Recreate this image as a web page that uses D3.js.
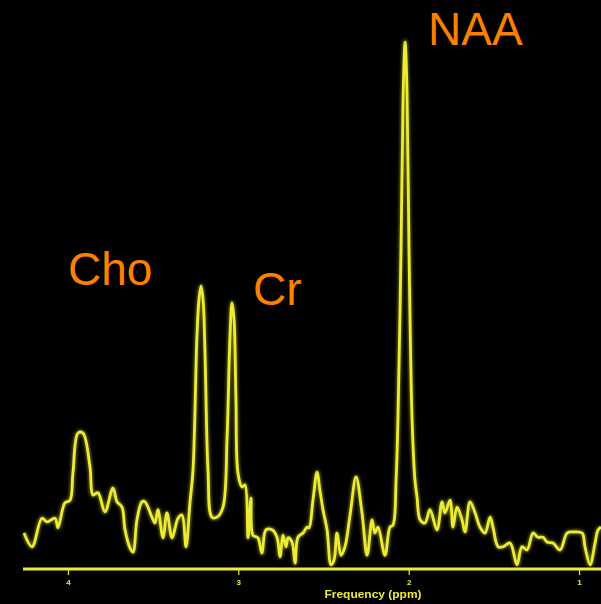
<!DOCTYPE html>
<html>
<head>
<meta charset="utf-8">
<script src="https://cdn.jsdelivr.net/npm/d3@7"></script>
<style>
  html, body { margin: 0; padding: 0; background: #000; }
  svg { display: block; }
</style>
</head>
<body>
<svg id="chart" width="601" height="604"></svg>
<script>
// Proton MR spectrum: chemical shift (ppm) against signal intensity (a.u.)
const ppm = [
  4.258, 4.211, 4.153, 4.123, 4.076, 4.059, 4.018, 3.988, 3.971, 3.941,
  3.912, 3.871, 3.853, 3.824, 3.783, 3.736, 3.712, 3.683, 3.665, 3.636,
  3.618, 3.595, 3.566, 3.548, 3.507, 3.489, 3.472, 3.442, 3.419, 3.389,
  3.354, 3.331, 3.307, 3.284, 3.266, 3.243, 3.231, 3.219, 3.207, 3.196,
  3.178, 3.155, 3.125, 3.090, 3.066, 3.049, 3.037, 3.025, 3.014, 3.002,
  2.978, 2.961, 2.943, 2.926, 2.914, 2.885, 2.861, 2.838, 2.802, 2.773,
  2.755, 2.738, 2.720, 2.708, 2.685, 2.667, 2.650, 2.620, 2.597, 2.585,
  2.562, 2.538, 2.521, 2.503, 2.479, 2.456, 2.438, 2.421, 2.397, 2.374,
  2.344, 2.309, 2.274, 2.244, 2.215, 2.198, 2.180, 2.139, 2.110, 2.092,
  2.074, 2.063, 2.045, 2.033, 2.021, 2.010, 1.998, 1.980, 1.963, 1.951,
  1.933, 1.904, 1.875, 1.834, 1.804, 1.787, 1.757, 1.740, 1.716, 1.687,
  1.669, 1.640, 1.610, 1.581, 1.552, 1.522, 1.505, 1.475, 1.446, 1.405,
  1.364, 1.335, 1.305, 1.270, 1.241, 1.211, 1.188, 1.153, 1.111, 1.070,
  1.035, 0.982, 0.965, 0.935, 0.906, 0.888, 0.871
];
const intensity = [
  6.8, 4.2, 9.6, 8.9, 9.6, 7.8, 12.5, 13.0, 18.1, 25.7,
  25.7, 19.3, 14.0, 14.4, 10.8, 15.3, 12.7, 11.7, 7.4, 4.0,
  3.2, 9.3, 12.7, 12.7, 9.8, 8.7, 11.2, 5.9, 10.6, 5.9,
  9.6, 10.2, 4.2, 12.5, 18.7, 43.9, 50.9, 53.5, 50.9, 41.4,
  18.7, 9.8, 9.8, 11.7, 25.0, 43.9, 50.3, 47.1, 31.9, 18.1,
  15.5, 15.9, 5.9, 13.4, 6.4, 5.9, 3.0, 7.4, 7.4, 6.0,
  2.3, 6.4, 4.2, 5.9, 5.1, 1.1, 6.0, 6.8, 7.9, 7.8,
  13.0, 18.3, 14.9, 11.2, 7.4, 0.8, 1.7, 6.8, 2.6, 4.2,
  10.2, 17.4, 10.6, 2.6, 9.3, 6.8, 7.9, 2.6, 7.9, 8.3,
  16.8, 28.2, 60.3, 88.7, 99.6, 90.5, 60.3, 28.2, 16.8, 13.6,
  9.3, 8.7, 11.2, 7.4, 12.7, 10.6, 13.0, 7.9, 11.7, 9.3,
  7.0, 12.7, 10.6, 7.9, 6.8, 9.8, 7.9, 4.2, 4.2, 4.9,
  0.8, 4.2, 3.6, 6.8, 6.0, 6.0, 5.1, 4.9, 3.6, 6.8,
  7.0, 6.8, 4.2, 0.8, 4.9, 7.4, 7.9
];

// Axis ticks (ppm) and metabolite labels
const tickValues = [4, 3, 2, 1];
const axisTitle = "Frequency (ppm)";
const peakNames = ["Cho", "Cr", "NAA"];
const peakPpm = [3.219, 3.037, 2.021];
const peakHeight = [53.5, 50.3, 99.6];

const svg = d3.select("#chart");
const W = 601, H = 604;
svg.append("rect").attr("width", W).attr("height", H).attr("fill", "#000");

const axisY = 569;
const x = d3.scaleLinear().domain([4.264, 0.871]).range([23, 601]);
const y = d3.scaleLinear().domain([0, 100]).range([axisY, 40]);

const defs = svg.append("defs");
const glow = defs.append("filter").attr("id", "glow")
  .attr("x", "-20%").attr("y", "-20%").attr("width", "140%").attr("height", "140%");
glow.append("feGaussianBlur").attr("stdDeviation", 1.6);
const soft = defs.append("filter").attr("id", "soft");
soft.append("feGaussianBlur").attr("stdDeviation", 0.45);

const yellow = "#ecec36";

// Frequency axis
const axis = d3.axisBottom(x)
  .tickValues(tickValues)
  .tickSize(6)
  .tickPadding(4)
  .tickFormat(d3.format("d"));
const gAxis = svg.append("g")
  .attr("transform", `translate(0,${axisY})`)
  .attr("filter", "url(#soft)")
  .call(axis);
gAxis.select(".domain").attr("stroke", yellow).attr("stroke-width", 3)
  .attr("d", `M${x.range()[0]},0H${x.range()[1]}`);
gAxis.selectAll(".tick line").attr("stroke", yellow).attr("stroke-width", 1.2);
gAxis.selectAll(".tick text")
  .attr("fill", yellow)
  .attr("font-family", "Liberation Sans, Arial, sans-serif")
  .attr("font-weight", "bold")
  .attr("font-size", 8);

svg.append("text")
  .attr("x", 373).attr("y", 598)
  .attr("text-anchor", "middle")
  .attr("fill", yellow)
  .attr("font-family", "Liberation Sans, Arial, sans-serif")
  .attr("font-weight", "bold")
  .attr("font-size", 10)
  .attr("textLength", 97)
  .attr("lengthAdjust", "spacingAndGlyphs")
  .attr("filter", "url(#soft)")
  .text(axisTitle);

// Spectrum trace
const pts = ppm.map((p, i) => [p, intensity[i]]);
const line = d3.line()
  .x(d => x(d[0]))
  .y(d => y(d[1]))
  .curve(d3.curveCatmullRom.alpha(0.5));

svg.append("path")
  .attr("d", line(pts))
  .attr("fill", "none")
  .attr("stroke", "#b8b820")
  .attr("stroke-width", 5)
  .attr("stroke-linejoin", "round")
  .attr("opacity", 0.55)
  .attr("filter", "url(#glow)");
svg.append("path")
  .attr("d", line(pts))
  .attr("fill", "none")
  .attr("stroke", yellow)
  .attr("stroke-width", 2.8)
  .attr("stroke-linejoin", "round")
  .attr("filter", "url(#soft)");

// Metabolite labels
const labelOffset = [
  { dx: -133, dy: -1 },
  { dx: 21, dy: 2 },
  { dx: 23, dy: 3 }
];
svg.selectAll("text.peak")
  .data(peakNames)
  .join("text")
  .attr("class", "peak")
  .attr("x", (d, i) => x(peakPpm[i]) + labelOffset[i].dx)
  .attr("y", (d, i) => y(peakHeight[i]) + labelOffset[i].dy)
  .attr("fill", "#ff8000")
  .attr("font-family", "Liberation Sans, Arial, sans-serif")
  .attr("font-size", 46)
  .text(d => d);
</script>
</body>
</html>
